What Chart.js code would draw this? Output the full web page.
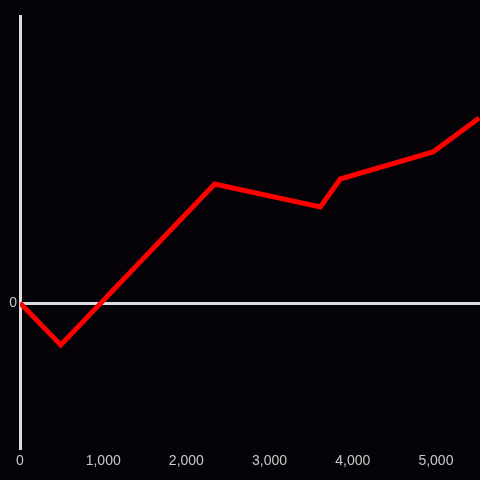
<!DOCTYPE html>
<html>
<head>
<meta charset="utf-8">
<script src="https://cdn.jsdelivr.net/npm/chart.js@4"></script>
<style>
  html, body { margin: 0; padding: 0; background: #050307; }
  #wrap { width: 480px; height: 480px; }
</style>
</head>
<body>
<div id="wrap"><canvas id="chart" width="480" height="480"></canvas></div>
<script>
const xValues = [0, 490, 2340, 3610, 3850, 4965, 5520];
const yValues = [0, -42, 119, 96, 124, 151, 185];
const xTicks = [0, 1000, 2000, 3000, 4000, 5000];
const yTicks = [0];

const formatter = new Intl.NumberFormat("en-US");
const axisColor = "#dcdcdc";
const labelColor = "#c8c8c8";

const bgPlugin = {
  id: "bg",
  beforeDraw(chart) {
    const ctx = chart.ctx;
    ctx.save();
    ctx.fillStyle = "#050307";
    ctx.fillRect(0, 0, chart.width, chart.height);
    ctx.restore();
  },
};

new Chart(document.getElementById("chart"), {
  type: "line",
  data: {
    datasets: [
      {
        data: xValues.map((x, i) => ({ x, y: yValues[i] })),
        borderColor: "#ff0000",
        borderWidth: 5,
        pointRadius: 0,
        tension: 0,
        fill: false,
      },
    ],
  },
  options: {
    responsive: false,
    animation: false,
    layout: { padding: { top: 16, right: 0, left: 0, bottom: 0 } },
    plugins: { legend: { display: false }, tooltip: { enabled: false } },
    scales: {
      x: {
        type: "linear",
        min: 0,
        max: 5530,
        afterBuildTicks: (scale) => { scale.ticks = xTicks.map((value) => ({ value })); },
        afterFit: (scale) => { scale.height = 32; },
        grid: { display: false, drawTicks: false },
        border: { display: false },
        ticks: {
          color: labelColor,
          font: { family: "Liberation Sans", size: 14 },
          padding: 5,
          maxRotation: 0,
          callback: (value) => formatter.format(value),
        },
      },
      y: {
        min: -145,
        max: 287,
        afterBuildTicks: (scale) => { scale.ticks = yTicks.map((value) => ({ value })); },
        afterFit: (scale) => { scale.width = 20; },
        grid: {
          color: (ctx) => (ctx.tick && ctx.tick.value === 0 ? axisColor : "transparent"),
          lineWidth: 3,
          drawTicks: false,
        },
        border: { display: true, color: axisColor, width: 3 },
        ticks: {
          color: labelColor,
          font: { family: "Liberation Sans", size: 14 },
          padding: 3,
          callback: (value) => formatter.format(value),
        },
      },
    },
  },
  plugins: [bgPlugin],
});
</script>
</body>
</html>
